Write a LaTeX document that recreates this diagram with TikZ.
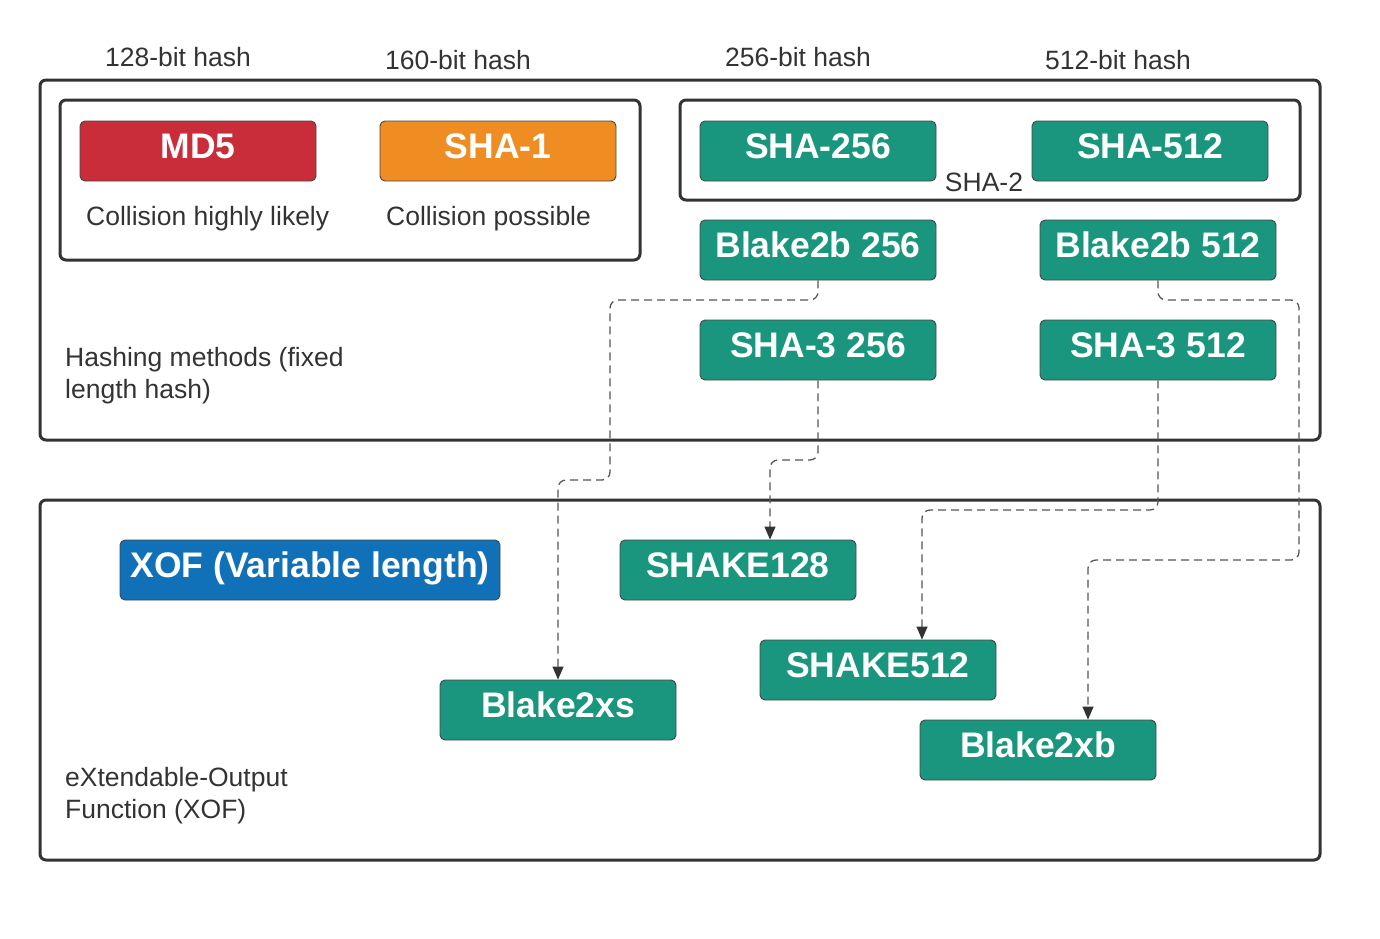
\documentclass[tikz,border=0pt]{standalone}
\usepackage{fontspec}
\setmainfont{Liberation Sans}
\usetikzlibrary{arrows.meta}
\definecolor{frame}{HTML}{333333}
\definecolor{txt}{HTML}{333333}
\definecolor{mdred}{HTML}{C92D39}
\definecolor{shaorange}{HTML}{EF8D22}
\definecolor{teal}{HTML}{19967D}
\definecolor{xofblue}{HTML}{1071B8}
\definecolor{conncol}{HTML}{555555}
\tikzset{
  outerbox/.style={draw=frame, line width=3pt, rounded corners=6pt},
  algo/.style={draw=frame!90, line width=0.9pt, rounded corners=5pt,
    minimum width=236pt, minimum height=60pt, inner sep=0pt,
    text=white, font=\fontsize{35.5}{38}\selectfont\bfseries,
    text height=25.5pt, text depth=10pt},
  lbl/.style={text=txt, font=\fontsize{26.5}{32}\selectfont, inner sep=0pt},
  conn/.style={draw=conncol, line width=1.3pt, dash pattern=on 8pt off 5pt,
    rounded corners=8pt, -{Triangle[length=13pt,width=11pt,fill=frame,color=frame]}}
}
\begin{document}
\begin{tikzpicture}[x=1pt,y=-1pt]
\useasboundingbox (0,0) rectangle (1380,938);
% frames
\draw[outerbox] (40,80) rectangle (1320,440);
\draw[outerbox] (60,100) rectangle (640,260);
\draw[outerbox] (680,100) rectangle (1300,200);
\draw[outerbox] (40,500) rectangle (1320,860);
% headers
\node[lbl] (h128) at (178,57) {128-bit hash};
\node[lbl] (h160) at (458,60) {160-bit hash};
\node[lbl] (h256) at (798,57) {256-bit hash};
\node[lbl] (h512) at (1118,60) {512-bit hash};
% top boxes
\node[algo, fill=mdred] (md5) at (198,151) {MD5};
\node[algo, fill=shaorange] (sha1) at (498,151) {SHA-1};
\node[algo, fill=teal] (sha256) at (818,151) {SHA-256};
\node[algo, fill=teal] (sha512) at (1150,151) {SHA-512};
\node[lbl] (sha2) at (984,182) {SHA-2};
\node[lbl, anchor=west] (c1) at (86,219) {Collision highly likely};
\node[lbl, anchor=west] (c2) at (386,219) {Collision possible};
\node[algo, fill=teal] (b256) at (818,250) {Blake2b 256};
\node[algo, fill=teal] (b512) at (1158,250) {Blake2b 512};
\node[algo, fill=teal] (s3256) at (818,350) {SHA-3 256};
\node[algo, fill=teal] (s3512) at (1158,350) {SHA-3 512};
\node[lbl, anchor=west, align=left] (hm) at (65,376) {Hashing methods (fixed\\length hash)};
% bottom boxes
\node[algo, fill=xofblue, minimum width=380pt] (xof) at (310,570) {XOF (Variable length)};
\node[algo, fill=teal] (sk128) at (738,570) {SHAKE128};
\node[algo, fill=teal] (sk512) at (878,670) {SHAKE512};
\node[algo, fill=teal] (bxs) at (558,710) {Blake2xs};
\node[algo, fill=teal] (bxb) at (1038,750) {Blake2xb};
\node[lbl, anchor=west, align=left] (xl) at (65,796) {eXtendable-Output\\Function (XOF)};
% connectors
\draw[conn] (b256.south) |- (610,300) |- (558,480) -- (bxs.north);
\draw[conn] (s3256.south) |- (770,460) -- ([xshift=32pt]sk128.north);
\draw[conn] (s3512.south) |- (922,510) -- ([xshift=44pt]sk512.north);
\draw[conn] (b512.south) |- (1299,300) |- (1088,560) -- ([xshift=50pt]bxb.north);
\end{tikzpicture}
\end{document}
